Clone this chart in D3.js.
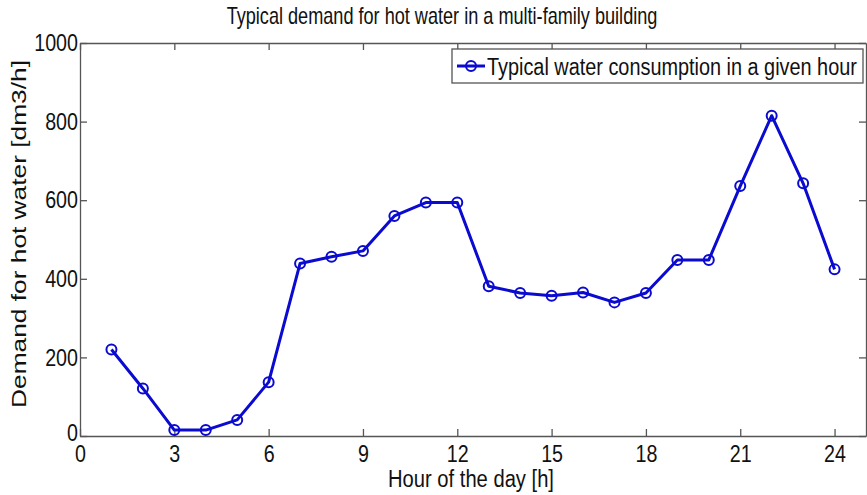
<!DOCTYPE html>
<html><head><meta charset="utf-8">
<script src="https://cdn.jsdelivr.net/npm/d3@7"></script>
<style>body{margin:0;background:#fff}svg{display:block}text{font-family:"Liberation Sans",Arial,sans-serif;fill:#111}</style>
</head><body>
<svg id="c" width="867" height="495"></svg>
<script>
const hours = [1,2,3,4,5,6,7,8,9,10,11,12,13,14,15,16,17,18,19,20,21,22,23,24];
const demand = [220,121,15,15,41,137,439,456,471,560,594,594,381,364,357,365,340,364,448,448,636,815,643,424];
const xTicks = [0,3,6,9,12,15,18,21,24];
const yTicks = [0,200,400,600,800,1000];
const title = "Typical demand for hot water in a multi-family building";
const xLabel = "Hour of the day [h]";
const yLabel = "Demand for hot water [dm3/h]";
const legendLabel = "Typical water consumption in a given hour";

const svg = d3.select("#c");
const x = d3.scaleLinear().domain([0,25]).range([80,866]);
const y = d3.scaleLinear().domain([0,1000]).range([436,43]);
const axCol = "#555", lineCol = "#0a0ad0";
const squeeze = 0.82;

function styleAxis(g){
  g.selectAll("path,line").attr("stroke",axCol).attr("stroke-width",1.3);
  g.selectAll("text").attr("font-size",24).attr("fill","#111").attr("font-family","Liberation Sans, Arial, sans-serif");
}
const gx = svg.append("g").attr("transform",`translate(0,${y(0)})`)
  .call(d3.axisBottom(x).tickValues(xTicks).tickSizeInner(-7).tickSizeOuter(0).tickPadding(9).tickFormat(d3.format("d")));
styleAxis(gx);
const gxt = svg.append("g").attr("transform",`translate(0,${y(1000)})`)
  .call(d3.axisTop(x).tickValues(xTicks).tickSizeInner(-7).tickSizeOuter(0).tickFormat(""));
styleAxis(gxt);
const gy = svg.append("g").attr("transform",`translate(${x(0)},0)`)
  .call(d3.axisLeft(y).tickValues(yTicks).tickSizeInner(-7).tickSizeOuter(0).tickPadding(2).tickFormat(d3.format("d")));
styleAxis(gy);
const gyr = svg.append("g").attr("transform",`translate(${x(25)},0)`)
  .call(d3.axisRight(y).tickValues(yTicks).tickSizeInner(-7).tickSizeOuter(0).tickFormat(""));
styleAxis(gyr);
gx.selectAll(".tick text").attr("transform",`scale(${squeeze},1)`);
gy.selectAll(".tick text").attr("transform",`scale(${squeeze},1)`).attr("x",-2/squeeze);
gy.selectAll(".tick").filter(d=>d===0).select("text").attr("dy","0.2em");

const line = d3.line().x((d,i)=>x(hours[i])).y(d=>y(d));
svg.append("path").datum(demand).attr("d",line).attr("fill","none")
  .attr("stroke",lineCol).attr("stroke-width",3).attr("stroke-linejoin","round");
svg.append("g").selectAll("circle").data(demand).join("circle")
  .attr("cx",(d,i)=>x(hours[i])).attr("cy",d=>y(d)).attr("r",5)
  .attr("fill","none").attr("stroke",lineCol).attr("stroke-width",2);

function fitText(sel, targetW){
  const w = sel.node().getComputedTextLength();
  return targetW / w;
}
const t1 = svg.append("text").attr("text-anchor","middle").attr("font-size",24).text(title);
t1.attr("transform",`translate(442,24) scale(${fitText(t1,431)},1)`);
const t2 = svg.append("text").attr("text-anchor","middle").attr("font-size",23).text(xLabel);
t2.attr("transform",`translate(471,487) scale(${fitText(t2,166)},1)`);
const t3 = svg.append("text").attr("text-anchor","middle").attr("font-size",21).text(yLabel);
t3.attr("transform",`translate(26,234) rotate(-90) scale(${fitText(t3,348)},1)`);

const lg = svg.append("g");
lg.append("rect").attr("x",452).attr("y",49).attr("width",411).attr("height",34)
  .attr("fill","#fff").attr("stroke",axCol).attr("stroke-width",1.3);
lg.append("line").attr("x1",457).attr("x2",485).attr("y1",66).attr("y2",66).attr("stroke",lineCol).attr("stroke-width",3);
lg.append("circle").attr("cx",471).attr("cy",66).attr("r",5).attr("fill","none").attr("stroke",lineCol).attr("stroke-width",2);
const t4 = lg.append("text").attr("font-size",23).text(legendLabel);
t4.attr("transform",`translate(487,75) scale(${fitText(t4,370)},1)`);
</script>
</body></html>
